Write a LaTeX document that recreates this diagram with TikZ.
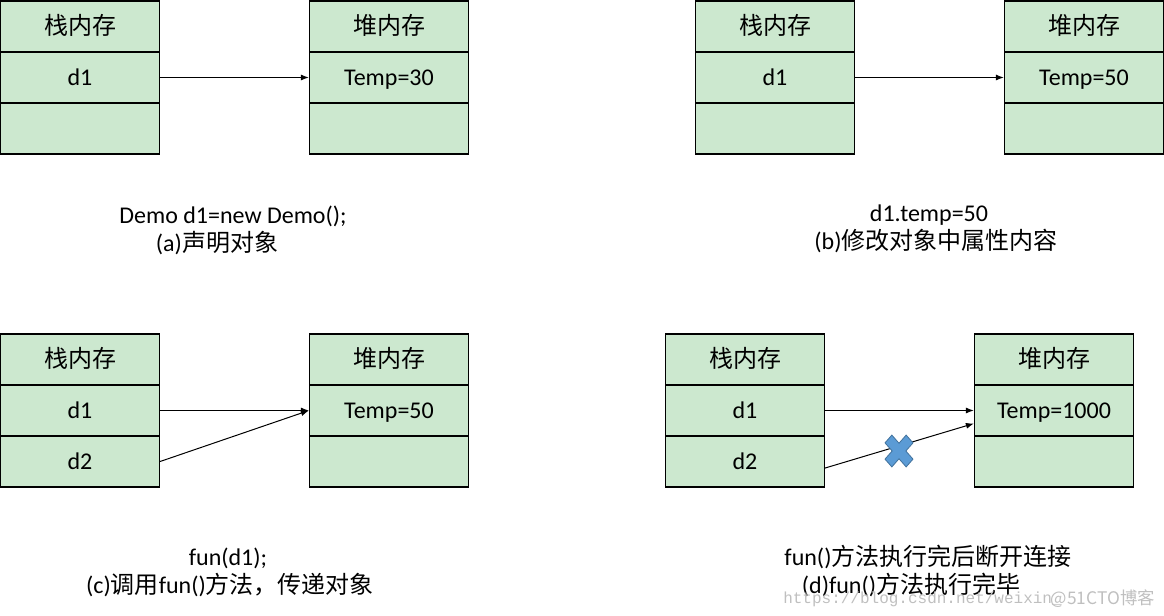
\documentclass[tikz,border=0pt]{standalone}
\usepackage{fontspec}
\setmainfont{Carlito}
\newfontfamily\cjk{Noto Sans CJK SC}
\newfontfamily\wmfont{Liberation Mono}
\usetikzlibrary{arrows.meta}
\definecolor{cellgreen}{RGB}{204,232,207}
\definecolor{crossblue}{RGB}{91,155,213}
\definecolor{crossline}{RGB}{65,113,156}
\tikzset{
  cell/.style={draw,fill=cellgreen,line width=0.9pt,minimum width=119.25pt,minimum height=38.25pt,inner sep=0pt,text height=13pt,text depth=1pt,font=\fontsize{18}{21}\selectfont},
  note/.style={inner sep=0pt,text height=13pt,text depth=1pt,font=\fontsize{18}{21}\selectfont},
  link/.style={-{Latex[length=6pt,width=4.5pt]},line width=0.75pt}
}
\begin{document}
\begin{tikzpicture}[x=0.75pt,y=-0.75pt]
\useasboundingbox (0,0) rectangle (1164,616);

% (a)
\node (AS0) at (80,26.5)[cell] {\cjk 栈内存};
\node (AS1) at (80,77.5)[cell] {d1};
\node (AS2) at (80,128.5)[cell] {};
\node (AH0) at (389,26.5)[cell] {\cjk 堆内存};
\node (AH1) at (389,77.5)[cell] {Temp=30};
\node (AH2) at (389,128.5)[cell] {};
\draw [link] (AS1.east) -- (AH1.west);
\node (Acode) at (233,216)[note] {Demo d1=new Demo();};
\node (Acap) at (217,244)[note] {(a){\cjk 声明对象}};

% (b)
\node (BS0) at (775,26.5)[cell] {\cjk 栈内存};
\node (BS1) at (775,77.5)[cell] {d1};
\node (BS2) at (775,128.5)[cell] {};
\node (BH0) at (1084,26.5)[cell] {\cjk 堆内存};
\node (BH1) at (1084,77.5)[cell] {Temp=50};
\node (BH2) at (1084,128.5)[cell] {};
\draw [link] (BS1.east) -- (BH1.west);
\node (Bcode) at (929,214)[note] {d1.temp=50};
\node (Bcap) at (936,242)[note] {(b){\cjk 修改对象中属性内容}};

% (c)
\node (CS0) at (80,359.5)[cell] {\cjk 栈内存};
\node (CS1) at (80,410.5)[cell] {d1};
\node (CS2) at (80,461.5)[cell] {d2};
\node (CH0) at (389,359.5)[cell] {\cjk 堆内存};
\node (CH1) at (389,410.5)[cell] {Temp=50};
\node (CH2) at (389,461.5)[cell] {};
\draw [link] (CS1.east) -- (CH1.west);
\draw [link] (CS2.east) -- (CH1.west);
\node (Ccode) at (228,557)[note] {fun(d1);};
\node (Ccap) at (230,585)[note] {(c){\cjk 调用}fun(){\cjk 方法，传递对象}};

% (d)
\node (DS0) at (745,359.5)[cell] {\cjk 栈内存};
\node (DS1) at (745,410.5)[cell] {d1};
\node (DS2) at (745,461.5)[cell] {d2};
\node (DH0) at (1054,359.5)[cell] {\cjk 堆内存};
\node (DH1) at (1054,410.5)[cell] {Temp=1000};
\node (DH2) at (1054,461.5)[cell] {};
\draw [link] (DS1.east) -- (DH1.west);
\draw [link] ([yshift=-4.9pt]DS2.east) -- ([yshift=-9.75pt]DH1.west);
\begin{scope}[shift={(899,451)},xscale=0.88,rotate=45]
\filldraw [fill=crossblue,draw=crossline,line width=0.6pt] (5.5,17) -- (5.5,5.5) -- (17,5.5) -- (17,-5.5) -- (5.5,-5.5) -- (5.5,-17) -- (-5.5,-17) -- (-5.5,-5.5) -- (-17,-5.5) -- (-17,5.5) -- (-5.5,5.5) -- (-5.5,17) -- cycle;
\end{scope}
\node (Dcode) at (928,557)[note] {fun(){\cjk 方法执行完后断开连接}};
\node (Dcap) at (911,585)[note] {(d)fun(){\cjk 方法执行完毕}};

% watermark
\node (mark) at (783,599)[anchor=west,inner sep=0pt,text=black!25,font=\wmfont\fontsize{12}{14}\selectfont] {https://blog.csdn.net/weixin\_};
\node (mark2) at (1155,599)[anchor=east,inner sep=0pt,text=black!25,font=\cjk\fontsize{13}{15}\selectfont] {@51CTO博客};
\end{tikzpicture}
\end{document}
